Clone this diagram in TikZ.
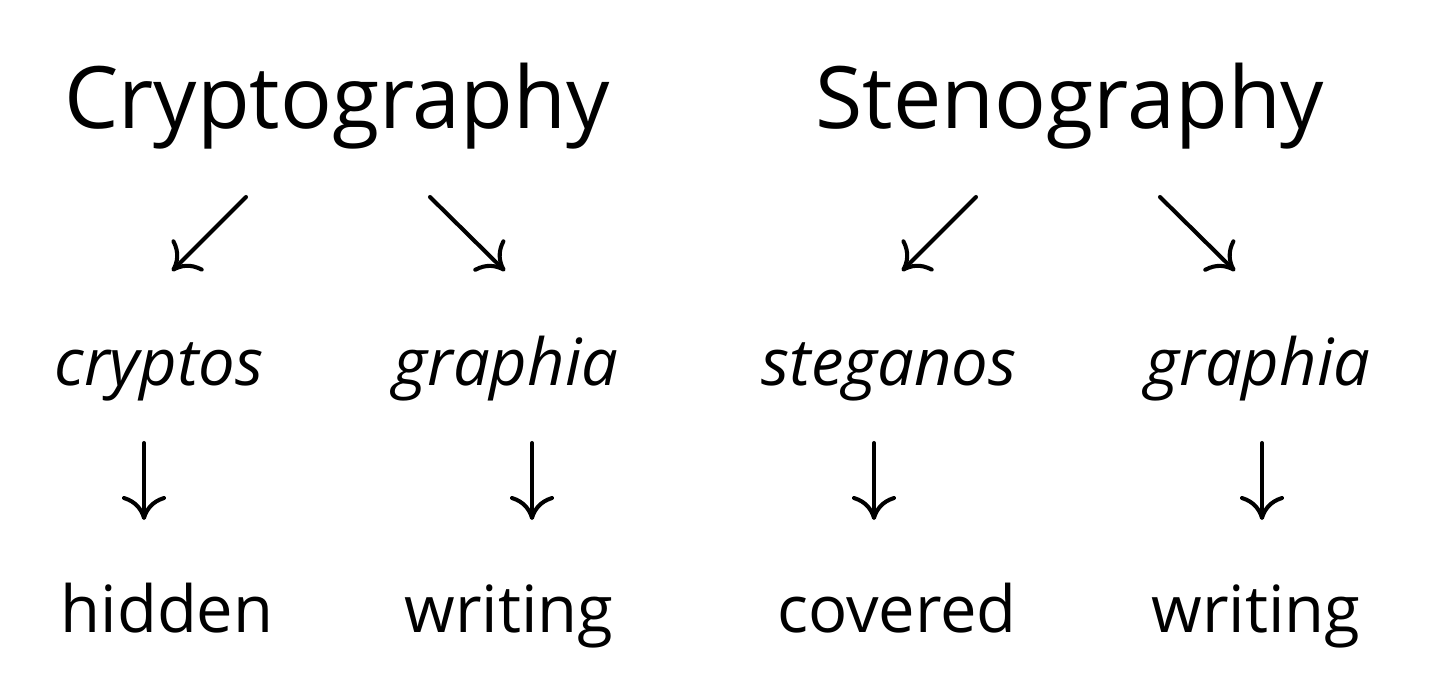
\documentclass[tikz,border=0pt]{standalone}
\usepackage{fontspec}
\setmainfont{Open Sans}
\usetikzlibrary{arrows.meta}
\begin{document}
\begin{tikzpicture}[x=0.01cm,y=-0.01cm,
  title/.style={anchor=base,inner sep=0pt,font=\fontsize{24.5}{28}\selectfont},
  word/.style={anchor=base,inner sep=0pt,font=\fontsize{18.5}{22}\selectfont\itshape},
  gloss/.style={anchor=base,inner sep=0pt,font=\fontsize{18.5}{22}\selectfont},
  arr/.style={line width=1.15pt,line cap=round,-{To[length=2.4mm,width=4.4mm,line width=1.15pt]}}]
\useasboundingbox (0,0) rectangle (1450,678);
\node[title] (crypto) at (337,128) {Cryptography};
\node[title] (steno) at (1070,128) {Stenography};
\node[word] (cryptos) at (159,385) {cryptos};
\node[word] (graphia1) at (506,385) {graphia};
\node[word] (steganos) at (889,385) {steganos};
\node[word] (graphia2) at (1258,385) {graphia};
\node[gloss] (hidden) at (167,632) {hidden};
\node[gloss] (writing1) at (509,632) {writing};
\node[gloss] (covered) at (897,632) {covered};
\node[gloss] (writing2) at (1256,632) {writing};
\coordinate (a1s) at (246,197); \coordinate (a1e) at (172,271);
\coordinate (a2s) at (430,197); \coordinate (a2e) at (505,271);
\coordinate (a3s) at (976,197); \coordinate (a3e) at (902,271);
\coordinate (a4s) at (1160,197); \coordinate (a4e) at (1235,271);
\coordinate (d1s) at (144,443); \coordinate (d1e) at (144,520);
\coordinate (d2s) at (532,443); \coordinate (d2e) at (532,520);
\coordinate (d3s) at (874,443); \coordinate (d3e) at (874,520);
\coordinate (d4s) at (1262,443); \coordinate (d4e) at (1262,520);
\draw[arr] (a1s) -- (a1e);
\draw[arr] (a2s) -- (a2e);
\draw[arr] (a3s) -- (a3e);
\draw[arr] (a4s) -- (a4e);
\draw[arr] (d1s) -- (d1e);
\draw[arr] (d2s) -- (d2e);
\draw[arr] (d3s) -- (d3e);
\draw[arr] (d4s) -- (d4e);
\end{tikzpicture}
\end{document}
